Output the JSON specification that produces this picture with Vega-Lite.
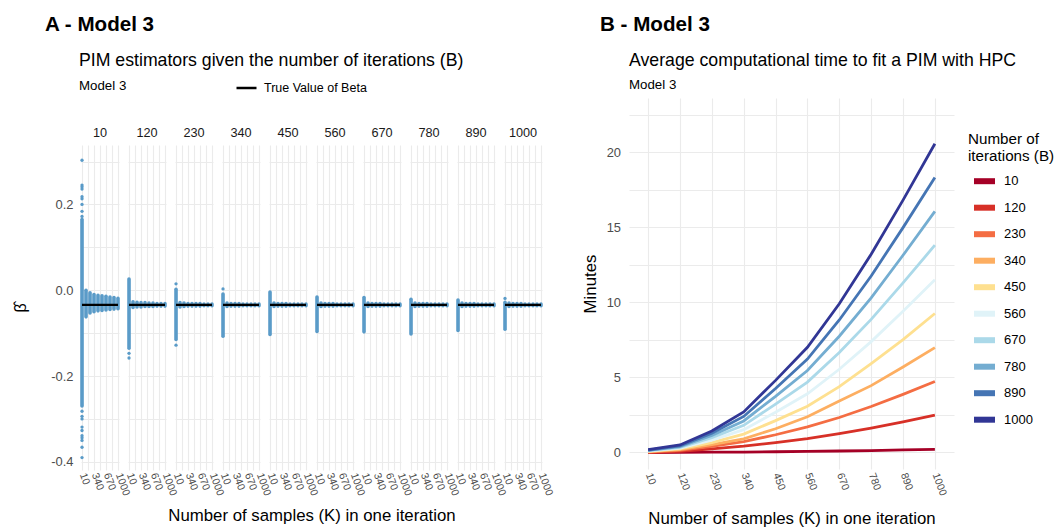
{
  "$schema": "https://vega.github.io/schema/vega-lite/v6.json",
  "padding": {"left": 12, "top": 14, "right": 5, "bottom": 4},
  "config": {
    "font": "Liberation Sans",
    "view": {"stroke": null},
    "axis": {"domain": false, "ticks": false, "gridColor": "#ebebeb", "gridWidth": 1.1, "labelColor": "#4d4d4d", "titleFontWeight": "normal", "titleColor": "#000000", "titleFontSize": 16.8},
    "header": {"labelFontSize": 12.7, "labelColor": "#1a1a1a"},
    "title": {"color": "#000000", "anchor": "start", "frame": "group"}
  },
  "spacing": 28,
  "resolve": {"legend": {"color": "independent", "stroke": "independent"}},
  "hconcat": [
    {
      "title": {"text": "A - Model 3", "fontSize": 20.6, "fontWeight": "bold", "offset": 5.5, "dx": -36},
      "spacing": 9,
      "vconcat": [
        {"width": 1, "height": 1, "data": {"values": []}, "mark": "point"},
        {
          "title": {"text": "PIM estimators given the number of iterations (B)", "subtitle": "Model 3", "fontSize": 17.7, "fontWeight": "normal", "subtitleFontSize": 13.3, "subtitleColor": "#000000", "subtitlePadding": 9, "offset": 35.5, "dx": -2},
          "data": {"name": "estimates"},
          "bounds": "flush",
          "facet": {"column": {"field": "B", "type": "ordinal", "title": "Number of samples (K) in one iteration",
            "header": {"labelPadding": 5, "labelOrient": "top", "titleOrient": "bottom", "titleFontSize": 16.8, "titleFontWeight": "normal", "titleColor": "#000000", "titlePadding": 1}}},
          "spacing": 9,
          "spec": {
            "width": 38,
            "height": 325,
            "encoding": {
              "x": {"field": "K", "type": "quantitative", "title": null,
                "scale": {"domain": [-18, 1028], "nice": false, "zero": false},
                "axis": {"values": [10, 175, 340, 505, 670, 835, 1000], "labelExpr": "indexof([10, 340, 670, 1000], datum.value) >= 0 ? toString(datum.value) : ''", "labelAngle": 70, "labelFontSize": 10.5, "labelOverlap": false, "labelFlush": false, "labelPadding": 3}},
              "y": {"field": "value", "type": "quantitative", "title": "β̂",
                "scale": {"domain": [-0.419, 0.3385], "nice": false, "zero": false},
                "axis": {"values": [-0.4, -0.3, -0.2, -0.1, 0, 0.1, 0.2, 0.3], "labelExpr": "abs(round(datum.value * 10)) % 2 === 0 ? (datum.value === 0 ? '0.0' : toString(datum.value)) : ''", "labelFontSize": 12.9, "labelPadding": 8, "titlePadding": 22, "titleFontSize": 16}}
            },
            "layer": [
              {
                "transform": [{"filter": "datum.kind === 'range'"}],
                "mark": {"type": "rule", "color": "#5a9bc8", "strokeWidth": 3.6, "strokeCap": "round"},
                "encoding": {"y2": {"field": "value_high"}}
              },
              {
                "transform": [{"filter": "datum.kind === 'outlier'"}],
                "mark": {"type": "circle", "color": "#5a9bc8", "opacity": 1, "size": 11}
              },
              {
                "transform": [{"filter": "datum.kind === 'truth'"}],
                "mark": {"type": "rule", "strokeWidth": 2.2},
                "encoding": {
                  "x2": {"field": "K_end"},
                  "stroke": {"datum": "True Value of Beta", "scale": {"range": ["#000000"]},
                    "legend": {"orient": "none", "legendX": 154, "legendY": 35.5, "title": null, "symbolType": "stroke", "symbolSize": 400, "symbolStrokeWidth": 2.5, "labelFontSize": 12.5, "labelColor": "#000000", "labelOffset": 6, "padding": 0}}
                }
              }
            ]
          }
        }
      ]
    },
    {
      "title": {"text": "B - Model 3", "fontSize": 20.6, "fontWeight": "bold", "offset": 5.5, "dx": -29},
      "spacing": 9,
      "vconcat": [
        {"width": 1, "height": 1, "data": {"values": []}, "mark": "point"},
        {
          "title": {"text": "Average computational time to fit a PIM with HPC", "subtitle": "Model 3", "fontSize": 17.7, "fontWeight": "normal", "subtitleFontSize": 13.3, "subtitleColor": "#000000", "subtitlePadding": 9, "offset": 6.5},
          "width": 325,
          "height": 371,
          "data": {"name": "timing"},
          "mark": {"type": "line", "strokeWidth": 2.8},
          "encoding": {
            "x": {"field": "K", "type": "ordinal", "title": "Number of samples (K) in one iteration",
              "scale": {"type": "point", "padding": 0.6},
              "axis": {"grid": true, "labelAngle": 70, "labelFontSize": 10.5, "labelPadding": 4, "titlePadding": 14}},
            "y": {"field": "minutes", "type": "quantitative", "title": "Minutes",
              "scale": {"domain": [-1.1, 23.6], "nice": false, "zero": false},
              "axis": {"values": [0, 2.5, 5, 7.5, 10, 12.5, 15, 17.5, 20, 22.5], "labelExpr": "datum.value % 5 === 0 ? datum.label : ''", "labelFontSize": 12.9, "labelPadding": 8.5, "titlePadding": 7}},
            "color": {"field": "B", "type": "ordinal",
              "scale": {"range": ["#a50026", "#d73027", "#f46d43", "#fdae61", "#fee090", "#e0f3f8", "#abd9e9", "#74add1", "#4575b4", "#313695"]},
              "legend": {"orient": "none", "legendX": 339, "legendY": 90.5, "title": ["Number of", "iterations (B)"], "titleFontSize": 15.2, "titleFontWeight": "normal", "titleColor": "#000000", "titleLineHeight": 17, "titlePadding": 4, "labelFontSize": 13, "labelColor": "#000000", "symbolType": "stroke", "symbolSize": 441, "symbolStrokeWidth": 6, "rowPadding": 0.5, "labelOffset": 6, "symbolOffset": 3, "padding": 0}}
          }
        }
      ]
    }
  ],
  "datasets": {
    "estimates": [
      {"B": 10, "kind": "range", "K": 10, "value": -0.27, "value_high": 0.165},
      {"B": 10, "kind": "range", "K": 120, "value": -0.062, "value_high": 0.0},
      {"B": 10, "kind": "range", "K": 230, "value": -0.053, "value_high": -0.006},
      {"B": 10, "kind": "range", "K": 340, "value": -0.05, "value_high": -0.01},
      {"B": 10, "kind": "range", "K": 450, "value": -0.048, "value_high": -0.012},
      {"B": 10, "kind": "range", "K": 560, "value": -0.047, "value_high": -0.013},
      {"B": 10, "kind": "range", "K": 670, "value": -0.046, "value_high": -0.014},
      {"B": 10, "kind": "range", "K": 780, "value": -0.045, "value_high": -0.016},
      {"B": 10, "kind": "range", "K": 890, "value": -0.044, "value_high": -0.017},
      {"B": 10, "kind": "range", "K": 1000, "value": -0.043, "value_high": -0.019},
      {"B": 10, "kind": "outlier", "K": 10, "value": 0.303},
      {"B": 10, "kind": "outlier", "K": 10, "value": 0.245},
      {"B": 10, "kind": "outlier", "K": 10, "value": 0.241},
      {"B": 10, "kind": "outlier", "K": 10, "value": 0.236},
      {"B": 10, "kind": "outlier", "K": 10, "value": 0.218},
      {"B": 10, "kind": "outlier", "K": 10, "value": 0.213},
      {"B": 10, "kind": "outlier", "K": 10, "value": 0.2},
      {"B": 10, "kind": "outlier", "K": 10, "value": 0.184},
      {"B": 10, "kind": "outlier", "K": 10, "value": 0.172},
      {"B": 10, "kind": "outlier", "K": 10, "value": -0.282},
      {"B": 10, "kind": "outlier", "K": 10, "value": -0.294},
      {"B": 10, "kind": "outlier", "K": 10, "value": -0.3},
      {"B": 10, "kind": "outlier", "K": 10, "value": -0.319},
      {"B": 10, "kind": "outlier", "K": 10, "value": -0.327},
      {"B": 10, "kind": "outlier", "K": 10, "value": -0.339},
      {"B": 10, "kind": "outlier", "K": 10, "value": -0.344},
      {"B": 10, "kind": "outlier", "K": 10, "value": -0.35},
      {"B": 10, "kind": "outlier", "K": 10, "value": -0.366},
      {"B": 10, "kind": "outlier", "K": 10, "value": -0.39},
      {"B": 10, "kind": "truth", "K": 10, "K_end": 1000, "value": -0.034},

      {"B": 120, "kind": "range", "K": 10, "value": -0.135, "value_high": 0.026},
      {"B": 120, "kind": "range", "K": 120, "value": -0.04, "value_high": -0.027},
      {"B": 120, "kind": "range", "K": 230, "value": -0.039, "value_high": -0.028},
      {"B": 120, "kind": "range", "K": 340, "value": -0.039, "value_high": -0.029},
      {"B": 120, "kind": "range", "K": 450, "value": -0.038, "value_high": -0.029},
      {"B": 120, "kind": "range", "K": 560, "value": -0.038, "value_high": -0.03},
      {"B": 120, "kind": "range", "K": 670, "value": -0.038, "value_high": -0.03},
      {"B": 120, "kind": "range", "K": 780, "value": -0.037, "value_high": -0.031},
      {"B": 120, "kind": "range", "K": 890, "value": -0.037, "value_high": -0.031},
      {"B": 120, "kind": "range", "K": 1000, "value": -0.037, "value_high": -0.031},
      {"B": 120, "kind": "outlier", "K": 10, "value": -0.147},
      {"B": 120, "kind": "outlier", "K": 10, "value": -0.158},
      {"B": 120, "kind": "truth", "K": 10, "K_end": 1000, "value": -0.034},

      {"B": 230, "kind": "range", "K": 10, "value": -0.115, "value_high": 0.002},
      {"B": 230, "kind": "range", "K": 120, "value": -0.039, "value_high": -0.029},
      {"B": 230, "kind": "range", "K": 230, "value": -0.038, "value_high": -0.03},
      {"B": 230, "kind": "range", "K": 340, "value": -0.037, "value_high": -0.031},
      {"B": 230, "kind": "range", "K": 450, "value": -0.037, "value_high": -0.031},
      {"B": 230, "kind": "range", "K": 560, "value": -0.037, "value_high": -0.031},
      {"B": 230, "kind": "range", "K": 670, "value": -0.037, "value_high": -0.031},
      {"B": 230, "kind": "range", "K": 780, "value": -0.036, "value_high": -0.032},
      {"B": 230, "kind": "range", "K": 890, "value": -0.036, "value_high": -0.032},
      {"B": 230, "kind": "range", "K": 1000, "value": -0.036, "value_high": -0.032},
      {"B": 230, "kind": "outlier", "K": 10, "value": 0.015},
      {"B": 230, "kind": "outlier", "K": 10, "value": -0.128},
      {"B": 230, "kind": "truth", "K": 10, "K_end": 1000, "value": -0.034},

      {"B": 340, "kind": "range", "K": 10, "value": -0.107, "value_high": -0.009},
      {"B": 340, "kind": "range", "K": 120, "value": -0.038, "value_high": -0.03},
      {"B": 340, "kind": "range", "K": 230, "value": -0.037, "value_high": -0.031},
      {"B": 340, "kind": "range", "K": 340, "value": -0.037, "value_high": -0.031},
      {"B": 340, "kind": "range", "K": 450, "value": -0.037, "value_high": -0.031},
      {"B": 340, "kind": "range", "K": 560, "value": -0.036, "value_high": -0.032},
      {"B": 340, "kind": "range", "K": 670, "value": -0.036, "value_high": -0.032},
      {"B": 340, "kind": "range", "K": 780, "value": -0.036, "value_high": -0.032},
      {"B": 340, "kind": "range", "K": 890, "value": -0.036, "value_high": -0.032},
      {"B": 340, "kind": "range", "K": 1000, "value": -0.036, "value_high": -0.032},
      {"B": 340, "kind": "outlier", "K": 10, "value": 0.003},
      {"B": 340, "kind": "truth", "K": 10, "K_end": 1000, "value": -0.034},

      {"B": 450, "kind": "range", "K": 10, "value": -0.103, "value_high": -0.004},
      {"B": 450, "kind": "range", "K": 120, "value": -0.038, "value_high": -0.03},
      {"B": 450, "kind": "range", "K": 230, "value": -0.037, "value_high": -0.031},
      {"B": 450, "kind": "range", "K": 340, "value": -0.037, "value_high": -0.031},
      {"B": 450, "kind": "range", "K": 450, "value": -0.037, "value_high": -0.031},
      {"B": 450, "kind": "range", "K": 560, "value": -0.036, "value_high": -0.032},
      {"B": 450, "kind": "range", "K": 670, "value": -0.036, "value_high": -0.032},
      {"B": 450, "kind": "range", "K": 780, "value": -0.036, "value_high": -0.032},
      {"B": 450, "kind": "range", "K": 890, "value": -0.036, "value_high": -0.032},
      {"B": 450, "kind": "range", "K": 1000, "value": -0.036, "value_high": -0.032},
      {"B": 450, "kind": "truth", "K": 10, "K_end": 1000, "value": -0.034},

      {"B": 560, "kind": "range", "K": 10, "value": -0.096, "value_high": -0.016},
      {"B": 560, "kind": "range", "K": 120, "value": -0.038, "value_high": -0.03},
      {"B": 560, "kind": "range", "K": 230, "value": -0.037, "value_high": -0.031},
      {"B": 560, "kind": "range", "K": 340, "value": -0.037, "value_high": -0.031},
      {"B": 560, "kind": "range", "K": 450, "value": -0.037, "value_high": -0.031},
      {"B": 560, "kind": "range", "K": 560, "value": -0.036, "value_high": -0.032},
      {"B": 560, "kind": "range", "K": 670, "value": -0.036, "value_high": -0.032},
      {"B": 560, "kind": "range", "K": 780, "value": -0.036, "value_high": -0.032},
      {"B": 560, "kind": "range", "K": 890, "value": -0.036, "value_high": -0.032},
      {"B": 560, "kind": "range", "K": 1000, "value": -0.036, "value_high": -0.032},
      {"B": 560, "kind": "truth", "K": 10, "K_end": 1000, "value": -0.034},

      {"B": 670, "kind": "range", "K": 10, "value": -0.097, "value_high": -0.017},
      {"B": 670, "kind": "range", "K": 120, "value": -0.038, "value_high": -0.03},
      {"B": 670, "kind": "range", "K": 230, "value": -0.037, "value_high": -0.031},
      {"B": 670, "kind": "range", "K": 340, "value": -0.037, "value_high": -0.031},
      {"B": 670, "kind": "range", "K": 450, "value": -0.037, "value_high": -0.031},
      {"B": 670, "kind": "range", "K": 560, "value": -0.036, "value_high": -0.032},
      {"B": 670, "kind": "range", "K": 670, "value": -0.036, "value_high": -0.032},
      {"B": 670, "kind": "range", "K": 780, "value": -0.036, "value_high": -0.032},
      {"B": 670, "kind": "range", "K": 890, "value": -0.036, "value_high": -0.032},
      {"B": 670, "kind": "range", "K": 1000, "value": -0.036, "value_high": -0.032},
      {"B": 670, "kind": "truth", "K": 10, "K_end": 1000, "value": -0.034},

      {"B": 780, "kind": "range", "K": 10, "value": -0.102, "value_high": -0.021},
      {"B": 780, "kind": "range", "K": 120, "value": -0.038, "value_high": -0.03},
      {"B": 780, "kind": "range", "K": 230, "value": -0.037, "value_high": -0.031},
      {"B": 780, "kind": "range", "K": 340, "value": -0.037, "value_high": -0.031},
      {"B": 780, "kind": "range", "K": 450, "value": -0.037, "value_high": -0.031},
      {"B": 780, "kind": "range", "K": 560, "value": -0.036, "value_high": -0.032},
      {"B": 780, "kind": "range", "K": 670, "value": -0.036, "value_high": -0.032},
      {"B": 780, "kind": "range", "K": 780, "value": -0.036, "value_high": -0.032},
      {"B": 780, "kind": "range", "K": 890, "value": -0.036, "value_high": -0.032},
      {"B": 780, "kind": "range", "K": 1000, "value": -0.036, "value_high": -0.032},
      {"B": 780, "kind": "truth", "K": 10, "K_end": 1000, "value": -0.034},

      {"B": 890, "kind": "range", "K": 10, "value": -0.094, "value_high": -0.023},
      {"B": 890, "kind": "range", "K": 120, "value": -0.038, "value_high": -0.03},
      {"B": 890, "kind": "range", "K": 230, "value": -0.037, "value_high": -0.031},
      {"B": 890, "kind": "range", "K": 340, "value": -0.037, "value_high": -0.031},
      {"B": 890, "kind": "range", "K": 450, "value": -0.037, "value_high": -0.031},
      {"B": 890, "kind": "range", "K": 560, "value": -0.036, "value_high": -0.032},
      {"B": 890, "kind": "range", "K": 670, "value": -0.036, "value_high": -0.032},
      {"B": 890, "kind": "range", "K": 780, "value": -0.036, "value_high": -0.032},
      {"B": 890, "kind": "range", "K": 890, "value": -0.036, "value_high": -0.032},
      {"B": 890, "kind": "range", "K": 1000, "value": -0.036, "value_high": -0.032},
      {"B": 890, "kind": "truth", "K": 10, "K_end": 1000, "value": -0.034},

      {"B": 1000, "kind": "range", "K": 10, "value": -0.091, "value_high": -0.028},
      {"B": 1000, "kind": "range", "K": 120, "value": -0.038, "value_high": -0.03},
      {"B": 1000, "kind": "range", "K": 230, "value": -0.037, "value_high": -0.031},
      {"B": 1000, "kind": "range", "K": 340, "value": -0.037, "value_high": -0.031},
      {"B": 1000, "kind": "range", "K": 450, "value": -0.037, "value_high": -0.031},
      {"B": 1000, "kind": "range", "K": 560, "value": -0.036, "value_high": -0.032},
      {"B": 1000, "kind": "range", "K": 670, "value": -0.036, "value_high": -0.032},
      {"B": 1000, "kind": "range", "K": 780, "value": -0.036, "value_high": -0.032},
      {"B": 1000, "kind": "range", "K": 890, "value": -0.036, "value_high": -0.032},
      {"B": 1000, "kind": "range", "K": 1000, "value": -0.036, "value_high": -0.032},
      {"B": 1000, "kind": "outlier", "K": 10, "value": -0.019},
      {"B": 1000, "kind": "truth", "K": 10, "K_end": 1000, "value": -0.034}
    ],
    "timing": [
      {"B": 10, "K": 10, "minutes": 0.0}, {"B": 10, "K": 120, "minutes": 0.01}, {"B": 10, "K": 230, "minutes": 0.02}, {"B": 10, "K": 340, "minutes": 0.03}, {"B": 10, "K": 450, "minutes": 0.05},
      {"B": 10, "K": 560, "minutes": 0.07}, {"B": 10, "K": 670, "minutes": 0.1}, {"B": 10, "K": 780, "minutes": 0.13}, {"B": 10, "K": 890, "minutes": 0.17}, {"B": 10, "K": 1000, "minutes": 0.21},
      {"B": 120, "K": 10, "minutes": 0.0}, {"B": 120, "K": 120, "minutes": 0.08}, {"B": 120, "K": 230, "minutes": 0.24}, {"B": 120, "K": 340, "minutes": 0.42}, {"B": 120, "K": 450, "minutes": 0.66},
      {"B": 120, "K": 560, "minutes": 0.92}, {"B": 120, "K": 670, "minutes": 1.25}, {"B": 120, "K": 780, "minutes": 1.62}, {"B": 120, "K": 890, "minutes": 2.03}, {"B": 120, "K": 1000, "minutes": 2.48},
      {"B": 230, "K": 10, "minutes": 0.02}, {"B": 230, "K": 120, "minutes": 0.14}, {"B": 230, "K": 230, "minutes": 0.4}, {"B": 230, "K": 340, "minutes": 0.72}, {"B": 230, "K": 450, "minutes": 1.18},
      {"B": 230, "K": 560, "minutes": 1.7}, {"B": 230, "K": 670, "minutes": 2.33}, {"B": 230, "K": 780, "minutes": 3.06}, {"B": 230, "K": 890, "minutes": 3.87}, {"B": 230, "K": 1000, "minutes": 4.73},
      {"B": 340, "K": 10, "minutes": 0.05}, {"B": 340, "K": 120, "minutes": 0.19}, {"B": 340, "K": 230, "minutes": 0.52}, {"B": 340, "K": 340, "minutes": 0.91}, {"B": 340, "K": 450, "minutes": 1.58},
      {"B": 340, "K": 560, "minutes": 2.38}, {"B": 340, "K": 670, "minutes": 3.42}, {"B": 340, "K": 780, "minutes": 4.45}, {"B": 340, "K": 890, "minutes": 5.69}, {"B": 340, "K": 1000, "minutes": 6.98},
      {"B": 450, "K": 10, "minutes": 0.07}, {"B": 450, "K": 120, "minutes": 0.24}, {"B": 450, "K": 230, "minutes": 0.66}, {"B": 450, "K": 340, "minutes": 1.22}, {"B": 450, "K": 450, "minutes": 2.12},
      {"B": 450, "K": 560, "minutes": 3.08}, {"B": 450, "K": 670, "minutes": 4.38}, {"B": 450, "K": 780, "minutes": 5.92}, {"B": 450, "K": 890, "minutes": 7.52}, {"B": 450, "K": 1000, "minutes": 9.25},
      {"B": 560, "K": 10, "minutes": 0.09}, {"B": 560, "K": 120, "minutes": 0.29}, {"B": 560, "K": 230, "minutes": 0.82}, {"B": 560, "K": 340, "minutes": 1.52}, {"B": 560, "K": 450, "minutes": 2.68},
      {"B": 560, "K": 560, "minutes": 3.91}, {"B": 560, "K": 670, "minutes": 5.54}, {"B": 560, "K": 780, "minutes": 7.38}, {"B": 560, "K": 890, "minutes": 9.41}, {"B": 560, "K": 1000, "minutes": 11.5},
      {"B": 670, "K": 10, "minutes": 0.12}, {"B": 670, "K": 120, "minutes": 0.34}, {"B": 670, "K": 230, "minutes": 0.98}, {"B": 670, "K": 340, "minutes": 1.81}, {"B": 670, "K": 450, "minutes": 3.22},
      {"B": 670, "K": 560, "minutes": 4.69}, {"B": 670, "K": 670, "minutes": 6.65}, {"B": 670, "K": 780, "minutes": 8.86}, {"B": 670, "K": 890, "minutes": 11.29}, {"B": 670, "K": 1000, "minutes": 13.8},
      {"B": 780, "K": 10, "minutes": 0.14}, {"B": 780, "K": 120, "minutes": 0.39}, {"B": 780, "K": 230, "minutes": 1.13}, {"B": 780, "K": 340, "minutes": 2.1}, {"B": 780, "K": 450, "minutes": 3.74},
      {"B": 780, "K": 560, "minutes": 5.46}, {"B": 780, "K": 670, "minutes": 7.74}, {"B": 780, "K": 780, "minutes": 10.3}, {"B": 780, "K": 890, "minutes": 13.13}, {"B": 780, "K": 1000, "minutes": 16.05},
      {"B": 890, "K": 10, "minutes": 0.16}, {"B": 890, "K": 120, "minutes": 0.44}, {"B": 890, "K": 230, "minutes": 1.28}, {"B": 890, "K": 340, "minutes": 2.4}, {"B": 890, "K": 450, "minutes": 4.26},
      {"B": 890, "K": 560, "minutes": 6.22}, {"B": 890, "K": 670, "minutes": 8.82}, {"B": 890, "K": 780, "minutes": 11.75}, {"B": 890, "K": 890, "minutes": 14.97}, {"B": 890, "K": 1000, "minutes": 18.3},
      {"B": 1000, "K": 10, "minutes": 0.19}, {"B": 1000, "K": 120, "minutes": 0.5}, {"B": 1000, "K": 230, "minutes": 1.43}, {"B": 1000, "K": 340, "minutes": 2.7}, {"B": 1000, "K": 450, "minutes": 4.8},
      {"B": 1000, "K": 560, "minutes": 7.0}, {"B": 1000, "K": 670, "minutes": 9.9}, {"B": 1000, "K": 780, "minutes": 13.2}, {"B": 1000, "K": 890, "minutes": 16.8}, {"B": 1000, "K": 1000, "minutes": 20.55}
    ]
  }
}
